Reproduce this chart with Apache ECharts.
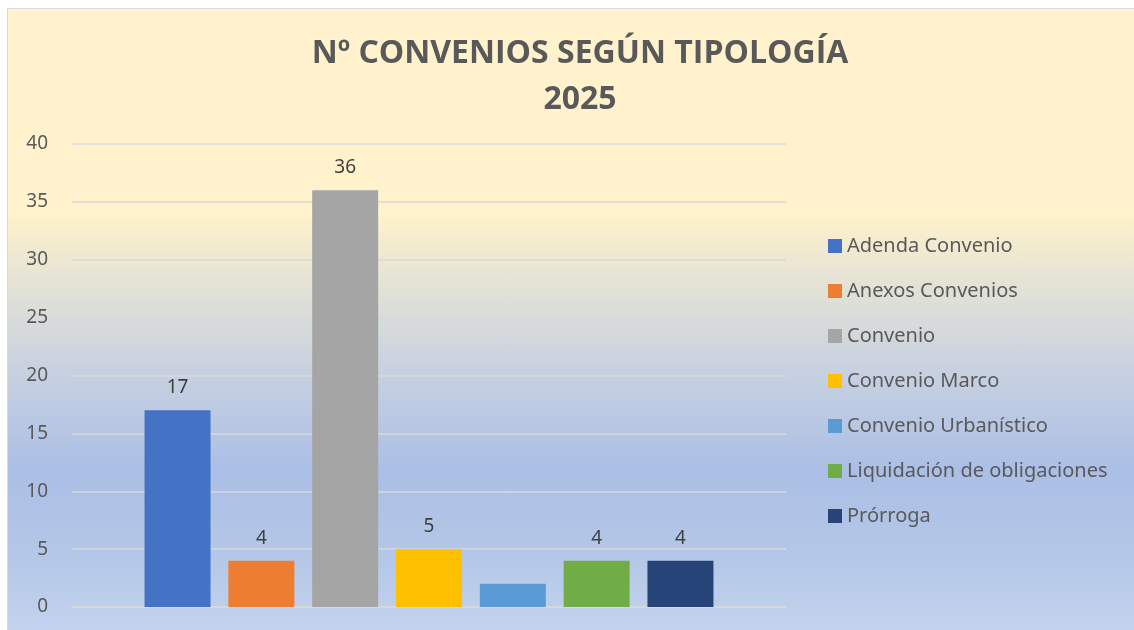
<!DOCTYPE html>
<html>
<head>
<meta charset="utf-8">
<script src="https://cdn.jsdelivr.net/npm/echarts@6/dist/echarts.min.js"></script>
<style>
  html, body { margin: 0; padding: 0; background: #ffffff; }
  .frame {
    position: absolute; left: 7px; top: 8px; width: 1127px; height: 622px;
    border-left: 1px solid #d9d9d9; border-top: 1px solid #d9d9d9;
    background: linear-gradient(to bottom, #fff2cc 0%, #fff2cc 33%, #e6e4d4 43%, #c8d1e0 58%, #abbfe6 74%, #b4c7e7 88%, #c3d3ee 100%);
  }
  #chart { position: absolute; left: 0; top: 0; width: 1134px; height: 630px; }
</style>
</head>
<body>
<div class="frame"></div>
<div id="chart"></div>
<script>
// datos del gráfico
const tipologias = ['Adenda Convenio', 'Anexos Convenios', 'Convenio', 'Convenio Marco', 'Convenio Urbanístico', 'Liquidación de obligaciones', 'Prórroga']
const valores = [17, 4, 36, 5, 2, 4, 4]
const mostrarEtiqueta = [true, true, true, true, false, true, true]
const colores = ['#4472C4', '#ED7D31', '#A5A5A5', '#FFC000', '#5B9BD5', '#70AD47', '#264478']
const ticksY = [0, 5, 10, 15, 20, 25, 30, 35, 40]

const chart = echarts.init(document.getElementById('chart'))

const series = tipologias.map((nombre, i) => ({
  name: nombre,
  type: 'bar',
  data: [valores[i]],
  barWidth: 66,
  barGap: '27%',
  itemStyle: { color: colores[i] },
  label: {
    show: mostrarEtiqueta[i],
    position: 'top',
    distance: 13,
    color: '#404040',
    fontSize: 19,
    fontFamily: 'Noto Sans'
  }
}))

chart.setOption({
  backgroundColor: 'transparent',
  animation: false,
  title: {
    text: 'Nº CONVENIOS SEGÚN TIPOLOGÍA\n2025',
    left: 575,
    textAlign: 'center',
    top: 26,
    textStyle: {
      color: '#595959',
      fontSize: 32,
      fontWeight: 'bold',
      fontFamily: 'Open Sans',
      lineHeight: 46
    }
  },
  legend: {
    orient: 'vertical',
    left: 823,
    top: 231,
    itemWidth: 14,
    itemHeight: 14,
    itemGap: 25,
    icon: 'rect',
    textStyle: { color: '#595959', fontSize: 20, fontFamily: 'Noto Sans', lineHeight: 20 },
    data: tipologias
  },
  grid: { left: 72, right: 348, top: 144, bottom: 23, containLabel: false },
  xAxis: {
    type: 'category',
    data: [''],
    axisLine: { show: true, lineStyle: { color: '#d9d9d9', width: 1.5 } },
    axisTick: { show: false },
    axisLabel: { show: false }
  },
  yAxis: {
    type: 'value',
    min: ticksY[0],
    max: ticksY[ticksY.length - 1],
    interval: 5,
    axisLine: { show: false },
    axisTick: { show: false },
    axisLabel: { color: '#595959', fontSize: 19, fontFamily: 'Noto Sans', margin: 24 },
    splitLine: { lineStyle: { color: '#d9d9d9', width: 1.5 } }
  },
  series: series
})
</script>
</body>
</html>
